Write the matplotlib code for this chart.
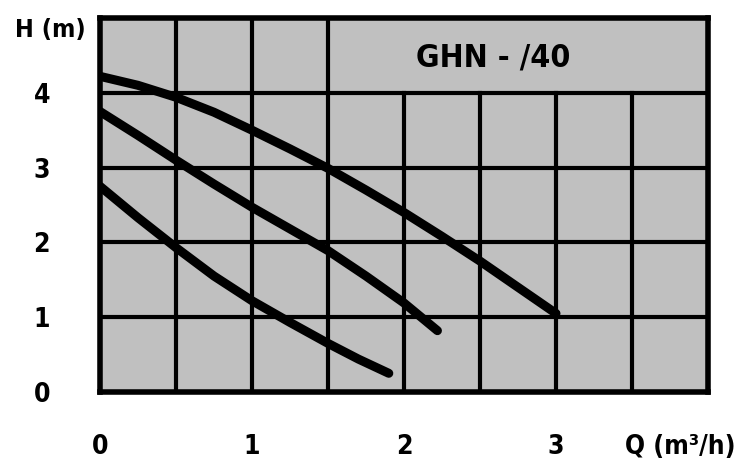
import matplotlib.pyplot as plt

# pump curves (Q in m3/h, H in m)
q_high = [0, 0.25, 0.5, 0.75, 1.0, 1.25, 1.5, 1.75, 2.0, 2.25, 2.5, 2.75, 3.0]
h_high = [4.22, 4.10, 3.94, 3.74, 3.50, 3.25, 2.99, 2.70, 2.40, 2.08, 1.75, 1.40, 1.05]

q_mid = [0, 0.25, 0.5, 0.75, 1.0, 1.25, 1.5, 1.75, 2.0, 2.22]
h_mid = [3.75, 3.43, 3.10, 2.78, 2.47, 2.18, 1.89, 1.55, 1.19, 0.82]

q_low = [0, 0.25, 0.5, 0.75, 1.0, 1.25, 1.5, 1.7, 1.9]
h_low = [2.75, 2.33, 1.93, 1.55, 1.22, 0.93, 0.65, 0.44, 0.25]

x_ticks = [0, 1, 2, 3]
y_ticks = [0, 1, 2, 3, 4]
title = "GHN - /40"

font = dict(family='DejaVu Sans', stretch='condensed', weight='bold')

fig = plt.figure(figsize=(7.48, 4.66), dpi=100)
ax = fig.add_axes([100 / 748, 74 / 466, 608 / 748, 374 / 466])
ax.set_facecolor('#c0c0c0')
ax.set_xlim(0, 4)
ax.set_ylim(0, 5)

# grid: full-height lines on the left, the rest stop below the title row
for x in [0.5, 1.0, 1.5]:
    ax.axvline(x, color='black', lw=3)
for x in [2.0, 2.5, 3.0, 3.5]:
    ax.axvline(x, ymax=0.8, color='black', lw=3)
for y in [1, 2, 3, 4]:
    ax.axhline(y, color='black', lw=3)

for q, h in [(q_high, h_high), (q_mid, h_mid), (q_low, h_low)]:
    ax.plot(q, h, color='black', lw=6.5, solid_capstyle='round',
            solid_joinstyle='round')

for side in ax.spines.values():
    side.set_linewidth(4)

ax.set_xticks(x_ticks)
ax.set_yticks(y_ticks)
ax.tick_params(length=0)
ax.set_xticklabels([str(v) for v in x_ticks], fontsize=19, **font)
ax.set_yticklabels([str(v) for v in y_ticks], fontsize=19, **font)
ax.tick_params(axis='x', pad=30)
ax.tick_params(axis='y', pad=36)

ax.text(2.59, 4.47, title, fontsize=23, ha='center', va='center', **font)
fig.text(50 / 748, 1 - 30 / 466, "H (m)", fontsize=18,
         ha='center', va='center', **font)
fig.text(680 / 748, 1 - 447 / 466, "Q (m³/h)", fontsize=19,
         ha='center', va='center', **font)

fig.savefig('out.png', dpi=100)
